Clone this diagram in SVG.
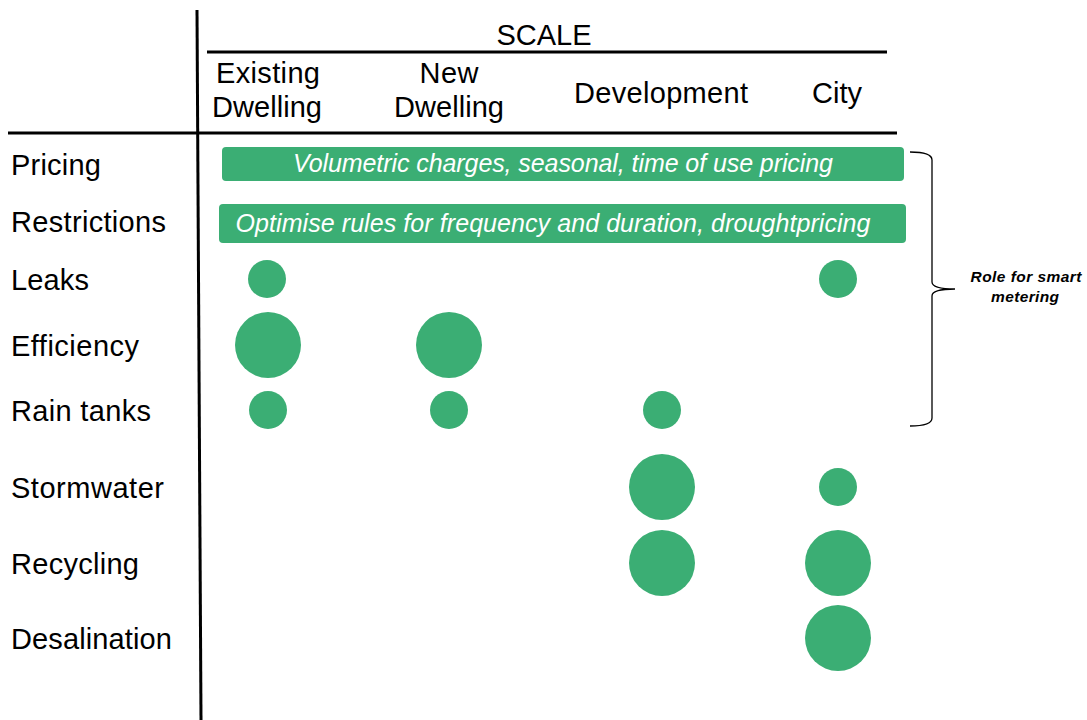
<svg xmlns="http://www.w3.org/2000/svg" width="1087" height="720" viewBox="0 0 1087 720">
<style>
.lbl{font-family:"Liberation Sans",Arial,sans-serif;font-size:29px;fill:#000}
.hdr{font-family:"Liberation Sans",Arial,sans-serif;font-size:29px;fill:#000;text-anchor:middle}
.bar{fill:#3BAE74}
.bartxt{font-family:"Liberation Sans",Arial,sans-serif;font-size:25px;font-style:italic;fill:#fff;text-anchor:middle}
.dot{fill:#3BAE74}
.rule{stroke:#000;stroke-width:3;fill:none}
.note{font-family:"Liberation Sans",Arial,sans-serif;font-size:15.5px;font-weight:bold;font-style:italic;fill:#000;text-anchor:middle}
</style>
<rect width="1087" height="720" fill="#fff"/>
<g id="grid">
<line class="rule" x1="197" y1="10" x2="201" y2="720"/>
<line class="rule" x1="8" y1="133" x2="897" y2="133"/>
<line class="rule" x1="207" y1="52" x2="887" y2="52"/>
</g>
<g id="header">
<text class="hdr" x="544" y="45" textLength="95">SCALE</text>
<text class="hdr" x="268" y="83" textLength="104">Existing</text>
<text class="hdr" x="267" y="117" textLength="110">Dwelling</text>
<text class="hdr" x="449" y="83" textLength="59">New</text>
<text class="hdr" x="449" y="117" textLength="110">Dwelling</text>
<text class="hdr" x="661" y="103" textLength="174">Development</text>
<text class="hdr" x="837" y="103" textLength="50">City</text>
</g>
<g id="rows">
<text class="lbl" x="11" y="175" textLength="90">Pricing</text>
<text class="lbl" x="11" y="232" textLength="155">Restrictions</text>
<text class="lbl" x="11" y="290" textLength="78">Leaks</text>
<text class="lbl" x="11" y="356" textLength="128">Efficiency</text>
<text class="lbl" x="11" y="421" textLength="140">Rain tanks</text>
<text class="lbl" x="11" y="498" textLength="153">Stormwater</text>
<text class="lbl" x="11" y="574" textLength="128">Recycling</text>
<text class="lbl" x="11" y="649" textLength="161">Desalination</text>
</g>
<g id="bar-pricing">
<rect class="bar" x="222" y="147" width="682" height="34" rx="4"/>
<text class="bartxt" x="563" y="172" textLength="540">Volumetric charges, seasonal, time of use pricing</text>
</g>
<g id="bar-restrictions">
<rect class="bar" x="219" y="204" width="687" height="39" rx="4"/>
<text class="bartxt" x="553" y="232" textLength="635">Optimise rules for frequency and duration, droughtpricing</text>
</g>
<g id="bubbles">
<circle class="dot" cx="267" cy="279" r="19"/>
<circle class="dot" cx="838" cy="279" r="19"/>
<circle class="dot" cx="268" cy="345" r="33"/>
<circle class="dot" cx="449" cy="345" r="33"/>
<circle class="dot" cx="268" cy="410" r="19"/>
<circle class="dot" cx="449" cy="410" r="19"/>
<circle class="dot" cx="662" cy="410" r="19"/>
<circle class="dot" cx="662" cy="487" r="33"/>
<circle class="dot" cx="838" cy="487" r="19"/>
<circle class="dot" cx="662" cy="563" r="33"/>
<circle class="dot" cx="838" cy="563" r="33"/>
<circle class="dot" cx="838" cy="638" r="33"/>
</g>
<g id="brace">
<path d="M910 152 Q932 152 932 160 L932 282 Q932 289 955 289 Q932 289 932 296 L932 418 Q932 426 910 426" fill="none" stroke="#000" stroke-width="1.3"/>
<text class="note" x="1026" y="282" textLength="111">Role for  smart</text>
<text class="note" x="1025" y="302" textLength="68">metering</text>
</g>
</svg>
